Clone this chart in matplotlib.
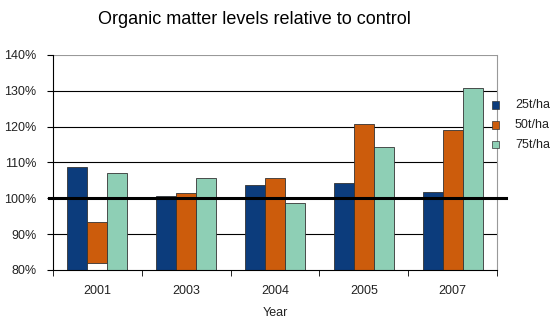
import matplotlib
matplotlib.use("Agg")
import matplotlib.pyplot as plt
import numpy as np

plt.rcParams["font.family"] = ["Liberation Sans", "DejaVu Sans"]

years = ["2001", "2003", "2004", "2005", "2007"]
series = ["25t/ha", "50t/ha", "75t/ha"]
rate_25 = [108.8, 100.7, 103.7, 104.2, 101.9]
rate_50 = [93.5, 101.4, 105.6, 120.7, 119.1]
rate_75 = [107.0, 105.6, 98.6, 114.4, 130.8]
colors = ["#0c3c7c", "#cc5c0c", "#8ecfb5"]

fig = plt.figure(figsize=(5.52, 3.29), dpi=100)
ax = fig.add_axes([53 / 552, 1 - 270 / 329, 444 / 552, 215 / 329])

x = np.arange(len(years))
w = 0.225
for i, (vals, c) in enumerate(zip([rate_25, rate_50, rate_75], colors)):
    # the 2001 50t/ha bar starts a little above the axis floor
    base = [82 if (i == 1 and j == 0) else 80 for j in range(len(years))]
    ax.bar(x + (i - 1) * w, np.array(vals) - np.array(base), bottom=base, width=w,
           color=c, edgecolor="#333333", linewidth=0.6, zorder=2)

for y in (90, 110, 120, 130):
    ax.axhline(y, color="black", linewidth=0.8, zorder=1)
ax.axhline(140, color="#999999", linewidth=0.8, zorder=1)
ax.plot([-0.55, 4.6], [100, 100], color="black", linewidth=2.2, clip_on=False, zorder=3)

ax.set_xlim(-0.5, 4.5)
ax.set_ylim(80, 140)
ax.set_yticks(range(80, 141, 10))
ax.set_yticklabels([f"{v}%" for v in range(80, 141, 10)], fontsize=9, color="#222222")
ax.set_xticks(x)
ax.set_xticklabels(years, fontsize=9, color="#222222")
ax.set_xticks(np.arange(-0.5, 4.6, 1), minor=True)
ax.tick_params(axis="x", which="major", length=0, pad=11)
ax.tick_params(axis="x", which="minor", length=4, direction="out")
ax.tick_params(axis="y", length=4, direction="out", pad=8)
ax.spines["top"].set_visible(False)
ax.spines["right"].set_color("#999999")
ax.spines["right"].set_linewidth(0.8)
ax.set_xlabel("Year", fontsize=9, labelpad=7, color="#222222")

fig.text(254 / 552, 1 - 20 / 329, "Organic matter levels relative to control",
         ha="center", va="center", fontsize=13)

# legend drawn as squares and labels in figure coords
for k, (name, c) in enumerate(zip(series, colors)):
    yy = 1 - (105 + 20 * k) / 329
    fig.patches.append(plt.Rectangle((492 / 552, yy - 3.5 / 329), 7 / 552, 7 / 329,
                                     transform=fig.transFigure, facecolor=c,
                                     edgecolor="#333333", linewidth=0.5))
    fig.text(550 / 552, yy, name, ha="right", va="center", fontsize=9, color="#222222")

fig.savefig("out.png", dpi=100)
